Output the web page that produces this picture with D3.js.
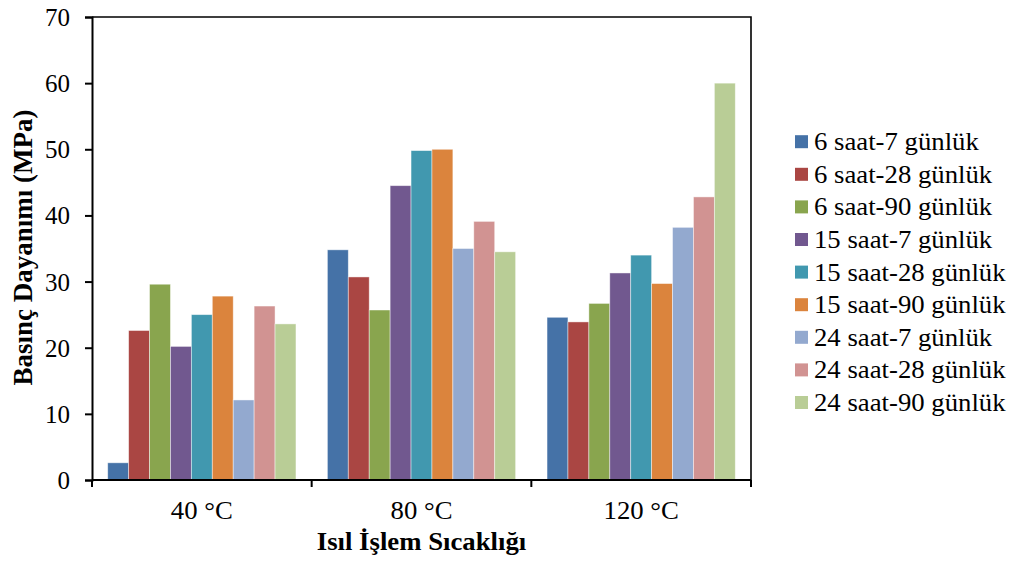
<!DOCTYPE html>
<html>
<head>
<meta charset="utf-8">
<script src="https://cdn.jsdelivr.net/npm/d3@7"></script>
<style>
  body { margin: 0; background: #fff; }
  svg text { font-family: "Liberation Serif", "Times New Roman", serif; fill: #000; }
</style>
</head>
<body>
<svg id="chart" width="1013" height="568"></svg>
<script>
// Heat-treatment temperatures (x categories)
const categories = ["40 °C", "80 °C", "120 °C"];

// Curing duration / age series
const seriesNames = [
  "6 saat-7 günlük", "6 saat-28 günlük", "6 saat-90 günlük",
  "15 saat-7 günlük", "15 saat-28 günlük", "15 saat-90 günlük",
  "24 saat-7 günlük", "24 saat-28 günlük", "24 saat-90 günlük"
];

// Compressive strength (MPa) per series, one value per temperature
const s6_7   = [2.6, 34.8, 24.6];
const s6_28  = [22.6, 30.7, 23.9];
const s6_90  = [29.6, 25.7, 26.7];
const s15_7  = [20.2, 44.5, 31.3];
const s15_28 = [25.0, 49.8, 34.0];
const s15_90 = [27.8, 50.0, 29.7];
const s24_7  = [12.1, 35.0, 38.2];
const s24_28 = [26.3, 39.1, 42.8];
const s24_90 = [23.6, 34.5, 60.0];

const yTicks = [0, 10, 20, 30, 40, 50, 60, 70];

const colors = ["#4572A7", "#AA4643", "#89A54E", "#71588F", "#4198AF",
                "#DB843D", "#93A9CF", "#D19392", "#B9CD96"];

const seriesValues = [s6_7, s6_28, s6_90, s15_7, s15_28, s15_90, s24_7, s24_28, s24_90];

const FONT = "Liberation Serif";
const SX = 1.07; // slight horizontal widening of the serif labels

const svg = d3.select("#chart");
const plot = { left: 92, right: 751, top: 17, bottom: 480 };

const x0 = d3.scaleBand().domain(categories)
  .range([plot.left, plot.right]).paddingInner(0.143).paddingOuter(0.0715);
const x1 = d3.scaleBand().domain(d3.range(seriesNames.length))
  .range([0, x0.bandwidth()]).padding(0);
const y = d3.scaleLinear().domain([0, 70]).range([plot.bottom, plot.top]);

// Bars
const groups = svg.append("g").selectAll("g")
  .data(categories).join("g")
  .attr("transform", d => `translate(${x0(d)},0)`);

groups.selectAll("rect")
  .data((c, ci) => seriesValues.map((vals, si) => ({ si, v: vals[ci] })))
  .join("rect")
  .attr("x", d => x1(d.si))
  .attr("y", d => y(d.v))
  .attr("width", x1.bandwidth())
  .attr("height", d => y(0) - y(d.v))
  .attr("fill", d => colors[d.si])
  .attr("stroke", "rgba(255,255,255,0.55)")
  .attr("stroke-width", 0.8);

// Plot frame (top and right)
svg.append("path")
  .attr("d", `M${plot.left},${plot.top}H${plot.right}V${plot.bottom}`)
  .attr("fill", "none").attr("stroke", "#000").attr("stroke-width", 1.6);

// Y axis
const yAxis = svg.append("g")
  .attr("transform", `translate(${plot.left},0)`)
  .call(d3.axisLeft(y).tickValues(yTicks).tickSize(7).tickPadding(15).tickFormat(d3.format("d")));
yAxis.attr("font-family", FONT);
yAxis.select(".domain").attr("stroke", "#000").attr("stroke-width", 2);
yAxis.selectAll(".tick line").attr("stroke", "#000").attr("stroke-width", 2);
yAxis.selectAll(".tick text")
  .attr("font-size", 25).attr("font-family", FONT).attr("dy", "0.34em");

// X axis with tick marks at category boundaries
const xAxisG = svg.append("g").attr("transform", `translate(0,${plot.bottom})`);
xAxisG.append("line")
  .attr("x1", plot.left).attr("x2", plot.right)
  .attr("stroke", "#000").attr("stroke-width", 2);
const boundaries = categories.map(c => x0(c) - x0.step() * x0.paddingOuter())
  .concat([plot.right]);
xAxisG.selectAll("line.tk").data(boundaries).join("line").attr("class", "tk")
  .attr("x1", d => d).attr("x2", d => d).attr("y1", 0).attr("y2", 7)
  .attr("stroke", "#000").attr("stroke-width", 2);
xAxisG.selectAll("g.lbl").data(categories).join("g").attr("class", "lbl")
  .attr("transform", d => `translate(${x0(d) + x0.bandwidth() / 2},39) scale(${SX},1)`)
  .append("text")
  .attr("text-anchor", "middle")
  .attr("font-size", 25)
  .attr("font-family", FONT)
  .text(d => d);

// Axis titles
svg.append("g")
  .attr("transform", `translate(${(plot.left + plot.right) / 2},550) scale(${SX},1)`)
  .append("text")
  .attr("text-anchor", "middle").attr("font-size", 25).attr("font-weight", "bold")
  .attr("font-family", FONT)
  .text("Isıl İşlem Sıcaklığı");
svg.append("text")
  .attr("transform", `translate(32,${(plot.top + plot.bottom) / 2 - 1}) rotate(-90)`)
  .attr("text-anchor", "middle").attr("font-size", 27).attr("font-weight", "bold")
  .attr("font-family", FONT)
  .text("Basınç Dayanımı (MPa)");

// Legend
const legend = svg.append("g").attr("transform", "translate(795,141.7)");
const item = legend.selectAll("g").data(seriesNames).join("g")
  .attr("transform", (d, i) => `translate(0,${i * 32.6})`);
item.append("rect")
  .attr("x", 0).attr("y", -6.5).attr("width", 13).attr("height", 13)
  .attr("fill", (d, i) => colors[i]);
item.append("g")
  .attr("transform", `translate(19,0) scale(${SX},1)`)
  .append("text")
  .attr("x", 0).attr("y", 0).attr("dy", "0.34em")
  .attr("font-size", 25)
  .attr("font-family", FONT)
  .text(d => d);
</script>
</body>
</html>
